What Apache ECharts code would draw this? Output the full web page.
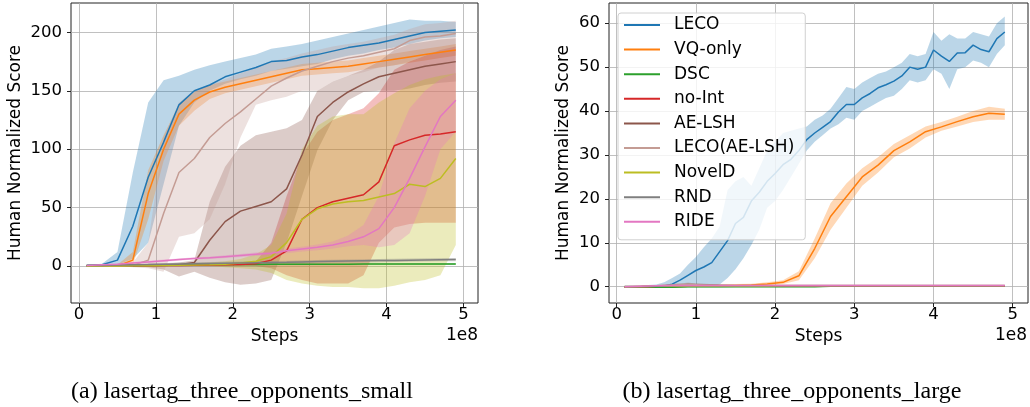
<!DOCTYPE html>
<html>
<head>
<meta charset="utf-8">
<script src="https://cdn.jsdelivr.net/npm/echarts@6/dist/echarts.min.js"></script>
<style>
  html, body { margin: 0; padding: 0; background: #fff; }
  #chart { width: 1030px; height: 407px; }
</style>
</head>
<body>
<div id="chart"></div>
<script>
// 横轴 (单位 1e8 步)
const steps = [0.1, 0.3, 0.5, 0.7, 0.9, 1.1, 1.3, 1.5, 1.7, 1.9, 2.1, 2.3, 2.5, 2.7, 2.9, 3.1, 3.3, 3.5, 3.7, 3.9, 4.1, 4.3, 4.5, 4.7, 4.9];
// LECO (large) 读得更细
const fineSteps = [0.1, 0.2, 0.3, 0.4, 0.5, 0.6, 0.7, 0.8, 0.9, 1.0, 1.1, 1.2, 1.3, 1.4, 1.5, 1.6, 1.7, 1.8, 1.9, 2.0, 2.1, 2.2, 2.3, 2.4, 2.5, 2.6, 2.7, 2.8, 2.9, 3.0, 3.1, 3.2, 3.3, 3.4, 3.5, 3.6, 3.7, 3.8, 3.9, 4.0, 4.1, 4.2, 4.3, 4.4, 4.5, 4.6, 4.7, 4.8, 4.9];
const methods = ['LECO', 'VQ-only', 'DSC', 'no-Int', 'AE-LSH', 'LECO(AE-LSH)', 'NovelD', 'RND', 'RIDE'];
const colors = ['#1f77b4', '#ff7f0e', '#2ca02c', '#d62728', '#8c564b', '#c49c94', '#bcbd22', '#7f7f7f', '#e377c2'];
const ticksX = [0, 1, 2, 3, 4, 5];
const smallTicksY = [0, 50, 100, 150, 200];
const largeTicksY = [0, 10, 20, 30, 40, 50, 60];

// (a) lasertag_three_opponents_small
const smallLECO = [0.5, 1, 5, 34, 76, 106, 138, 150, 155, 162, 166, 170, 175, 176, 179, 181, 184, 187, 189, 191, 194, 197, 200, 201, 202];
const smallLECOLo = [0, 0, 1, 6, 20, 70, 120, 140, 150, 156, 160, 163, 167, 169, 171, 173, 177, 180, 182, 185, 187, 190, 193, 195, 196];
const smallLECOHi = [1, 2, 12, 80, 140, 159, 163, 168, 172, 175, 178, 181, 186, 188, 190, 193, 196, 199, 202, 205, 208, 211, 210, 210, 209];

const smallVQ = [0, 0, 0, 5, 62, 100, 130, 142, 149, 153, 156, 159, 162, 165, 168, 169, 170, 171, 173, 175, 177, 179, 181, 183, 185];
const smallVQLo = [0, 0, 0, 1, 40, 90, 120, 133, 143, 148, 151, 154, 157, 160, 163, 164, 165, 166, 168, 170, 172, 174, 176, 178, 180];
const smallVQHi = [0.5, 1, 1, 12, 82, 112, 138, 149, 155, 158, 161, 164, 167, 170, 173, 174, 175, 176, 178, 180, 182, 184, 186, 188, 190];

const smallDSC = [0.5, 0.5, 0.5, 0.8, 1, 1, 1, 1, 1.2, 1.2, 1.3, 1.3, 1.4, 1.4, 1.5, 1.5, 1.5, 1.5, 1.6, 1.6, 1.6, 1.7, 1.7, 1.7, 1.7];
const smallDSCLo = [0, 0, 0, 0.2, 0.4, 0.4, 0.4, 0.4, 0.5, 0.5, 0.6, 0.6, 0.6, 0.6, 0.7, 0.7, 0.7, 0.7, 0.8, 0.8, 0.8, 0.8, 0.8, 0.8, 0.8];
const smallDSCHi = [1, 1, 1, 1.4, 1.6, 1.6, 1.6, 1.6, 1.9, 1.9, 2, 2, 2.2, 2.2, 2.3, 2.3, 2.3, 2.3, 2.4, 2.4, 2.4, 2.6, 2.6, 2.6, 2.6];

const smallNoInt = [0, 0, 0, 0.2, 0.3, 0.4, 0.5, 0.6, 0.8, 1, 1.2, 2, 5, 13, 40, 50, 55, 58, 61, 72, 103, 108, 112, 113, 115];
const smallNoIntLo = [0, 0, 0, 0, 0, 0, 0, 0, 0, 0, 0, 0, -2, -8, -12, -15, -15, -15, -8, 20, 33, 36, 37, 37, 37];
const smallNoIntHi = [0.5, 0.5, 0.5, 1, 1, 1, 1, 1.5, 1.5, 2, 2.5, 4, 20, 60, 95, 115, 125, 130, 135, 148, 168, 175, 180, 185, 188];

const smallAE = [0, 0, 0, 0, 0.2, 0.5, 1, 3, 22, 38, 47, 51, 55, 66, 95, 128, 140, 149, 156, 162, 165, 168, 171, 173, 175];
const smallAELo = [0, 0, 0, 0, -1, -3, -9, -5, -10, -14, -16, -15, -12, 20, 60, 99, 125, 142, 149, 150, 150, 152, 155, 157, 158];
const smallAEHi = [0.5, 0.5, 0.5, 1, 2, 2, 3, 5, 55, 85, 103, 112, 115, 118, 125, 150, 158, 163, 168, 175, 185, 190, 192, 194, 195];

const smallLECOAE = [0, 0, 0, 0.5, 5, 45, 80, 92, 110, 122, 132, 143, 154, 161, 167, 171, 175, 178, 180, 183, 186, 193, 196, 197, 199];
const smallLECOAELo = [0, 0, 0, -1, -2, -5, 25, 28, 40, 70, 110, 138, 142, 145, 150, 150, 158, 163, 166, 170, 172, 175, 180, 183, 186];
const smallLECOAEHi = [0.5, 1, 1, 3, 20, 110, 140, 150, 155, 160, 165, 170, 175, 178, 182, 185, 188, 190, 192, 195, 198, 203, 207, 208, 210];

const smallNovelD = [0, 0, 0, 0.2, 0.3, 0.5, 0.6, 0.8, 1, 1.5, 2.5, 4, 8, 20, 40, 49, 53, 55, 56, 59, 62, 70, 68, 75, 92];
const smallNovelDLo = [0, 0, 0, 0, 0, 0, 0, 0, 0, -1, -2, -3, -6, -12, -15, -17, -18, -18, -19, -19, -17, -14, -12, -8, 18];
const smallNovelDHi = [0.5, 0.5, 0.5, 0.8, 1, 1.5, 2, 2.5, 3, 4, 6, 10, 18, 45, 100, 120, 128, 130, 130, 140, 148, 155, 160, 163, 165];

const smallRND = [0.5, 0.5, 0.8, 1, 1.2, 1.5, 1.8, 2, 2.2, 2.4, 2.6, 2.8, 3, 3.2, 3.5, 3.8, 4, 4.2, 4.4, 4.6, 4.8, 5, 5.2, 5.4, 5.5];
const smallRNDLo = [0, 0, 0, 0, 0.2, 0.5, 0.7, 0.9, 1, 1.2, 1.4, 1.5, 1.7, 1.9, 2.1, 2.4, 2.6, 2.8, 3, 3.2, 3.4, 3.6, 3.8, 4, 4.1];
const smallRNDHi = [1, 1, 1.5, 2, 2.2, 2.5, 2.9, 3.1, 3.4, 3.6, 3.8, 4.1, 4.3, 4.5, 4.9, 5.2, 5.4, 5.6, 5.8, 6, 6.2, 6.4, 6.6, 6.8, 6.9];

const smallRIDE = [0.5, 1, 1.5, 2.5, 3.5, 4.5, 5.5, 6.5, 7, 8, 9, 10, 11, 13, 14.5, 16, 18, 21, 25, 32, 50, 75, 102, 128, 142];
const smallRIDELo = [0, 0.3, 0.7, 1.5, 2.5, 3.5, 4.5, 5.5, 6, 6.8, 7.7, 8.5, 9.5, 11, 12.5, 13.5, 15, 17, 18, 16, 18, 28, 60, 100, 115];
const smallRIDEHi = [1, 1.7, 2.3, 3.5, 4.5, 5.5, 6.5, 7.5, 8, 9.2, 10.3, 11.5, 12.5, 15, 16.5, 18.5, 21, 26, 35, 60, 105, 135, 150, 160, 165];

// (b) lasertag_three_opponents_large
const largeLECO = [0, 0, 0, 0, 0.1, 0.2, 0.6, 1.5, 2.6, 3.7, 4.5, 5.5, 8, 10.5, 14.4, 15.8, 19.5, 21.5, 24, 25.8, 27.8, 29, 31, 33.5, 35, 36.3, 37.6, 39.8, 41.5, 41.5, 43, 44, 45.3, 46, 46.8, 48, 50, 49.5, 50, 53.9, 52.5, 51.3, 53.2, 53.3, 55, 54, 53.5, 56.5, 58];
const largeLECOLo = [0, 0, 0, 0, 0, 0, 0, 0, 0, 0, 0, 0, 0.5, 2, 4, 6.5, 9.5, 13, 18, 19.5, 22, 25, 28, 31, 33, 34.5, 36, 37, 38.5, 38, 40, 41, 42, 43, 43.5, 45, 47, 46.5, 47, 49.5, 48.5, 45, 49.5, 50, 51.5, 51, 50, 53, 55];
const largeLECOHi = [0.3, 0.3, 0.3, 0.4, 0.5, 1, 2, 3, 5, 6.8, 9, 11, 13.7, 22, 24, 25, 23, 27, 31, 33, 35, 35.5, 36, 36.5, 38, 39, 40.5, 43, 45.5, 45, 46.5, 47.5, 48.5, 49, 50, 51, 53, 52.5, 53, 58, 56, 57.5, 56.5, 56.5, 58, 57.5, 57, 60, 61.5];

const largeVQ = [0, 0, 0, 0, 0.1, 0.1, 0.2, 0.3, 0.4, 0.6, 1, 2.5, 8.7, 16, 20.5, 25, 27.7, 31, 33, 35.3, 36.4, 37.6, 38.7, 39.5, 39.3];
const largeVQLo = [-0.2, -0.2, -0.2, -0.1, 0, 0, 0, 0.1, 0.2, 0.3, 0.6, 1.5, 6.5, 13, 18, 23, 26, 29.5, 31.5, 34, 35.5, 36.5, 37.5, 38, 38];
const largeVQHi = [0.2, 0.2, 0.2, 0.3, 0.4, 0.4, 0.5, 0.6, 0.7, 1, 1.5, 3.5, 11, 19, 23.5, 27, 29.5, 32.5, 34.5, 36.5, 37.5, 38.7, 40, 41, 40.5];

const largeDSC = [0, -0.1, -0.1, -0.1, 0, 0, 0, 0, 0, 0, 0, 0, 0, 0.1, 0.1, 0.1, 0.1, 0.1, 0.1, 0.1, 0.1, 0.1, 0.1, 0.1, 0.1];
const largeDSCLo = [-0.2, -0.3, -0.3, -0.3, -0.2, -0.2, -0.2, -0.1, -0.1, -0.1, -0.1, -0.1, -0.1, 0, 0, 0, 0, 0, 0, 0, 0, 0, 0, 0, 0];
const largeDSCHi = [0.2, 0.1, 0.1, 0.1, 0.2, 0.2, 0.2, 0.1, 0.1, 0.1, 0.1, 0.1, 0.1, 0.2, 0.2, 0.2, 0.2, 0.2, 0.2, 0.2, 0.2, 0.2, 0.2, 0.2, 0.2];

const largeNoInt = [0, 0, 0.1, 0.1, 0.1, 0.1, 0.1, 0.1, 0.1, 0.1, 0.1, 0.1, 0.1, 0.1, 0.1, 0.1, 0.1, 0.1, 0.1, 0.1, 0.1, 0.1, 0.1, 0.1, 0.1];
const largeNoIntLo = [-0.1, -0.1, 0, 0, 0, 0, 0, 0, 0, 0, 0, 0, 0, 0, 0, 0, 0, 0, 0, 0, 0, 0, 0, 0, 0];
const largeNoIntHi = [0.1, 0.1, 0.2, 0.2, 0.2, 0.2, 0.2, 0.2, 0.2, 0.2, 0.2, 0.2, 0.2, 0.2, 0.2, 0.2, 0.2, 0.2, 0.2, 0.2, 0.2, 0.2, 0.2, 0.2, 0.2];

const largeAE = [0, 0, 0.1, 0.3, 0.5, 0.4, 0.3, 0.2, 0.2, 0.2, 0.2, 0.2, 0.2, 0.2, 0.2, 0.2, 0.2, 0.2, 0.2, 0.2, 0.2, 0.2, 0.2, 0.2, 0.2];
const largeAELo = [-0.2, -0.2, -0.1, 0, 0.1, 0.1, 0.1, 0, 0, 0, 0, 0, 0, 0, 0, 0, 0, 0, 0, 0, 0, 0, 0, 0, 0];
const largeAEHi = [0.2, 0.2, 0.3, 0.6, 0.9, 0.7, 0.5, 0.4, 0.4, 0.4, 0.4, 0.4, 0.4, 0.4, 0.4, 0.4, 0.4, 0.4, 0.4, 0.4, 0.4, 0.4, 0.4, 0.4, 0.4];

const largeLECOAE = [0, 0.1, 0.2, 0.4, 0.5, 0.4, 0.3, 0.3, 0.3, 0.3, 0.3, 0.3, 0.3, 0.3, 0.3, 0.3, 0.3, 0.3, 0.3, 0.3, 0.3, 0.3, 0.3, 0.3, 0.3];
const largeLECOAELo = [-0.2, -0.1, 0, 0.1, 0.1, 0.1, 0.1, 0.1, 0.1, 0.1, 0.1, 0.1, 0.1, 0.1, 0.1, 0.1, 0.1, 0.1, 0.1, 0.1, 0.1, 0.1, 0.1, 0.1, 0.1];
const largeLECOAEHi = [0.2, 0.3, 0.4, 0.7, 0.9, 0.7, 0.5, 0.5, 0.5, 0.5, 0.5, 0.5, 0.5, 0.5, 0.5, 0.5, 0.5, 0.5, 0.5, 0.5, 0.5, 0.5, 0.5, 0.5, 0.5];

const largeNovelD = [0, 0, 0.1, 0.1, 0.1, 0.1, 0.1, 0.1, 0.1, 0.1, 0.2, 0.2, 0.2, 0.2, 0.2, 0.2, 0.2, 0.2, 0.2, 0.2, 0.2, 0.2, 0.2, 0.2, 0.2];
const largeNovelDLo = [-0.1, -0.1, 0, 0, 0, 0, 0, 0, 0, 0, 0.1, 0.1, 0.1, 0.1, 0.1, 0.1, 0.1, 0.1, 0.1, 0.1, 0.1, 0.1, 0.1, 0.1, 0.1];
const largeNovelDHi = [0.1, 0.1, 0.2, 0.2, 0.2, 0.2, 0.2, 0.2, 0.2, 0.2, 0.3, 0.3, 0.3, 0.3, 0.3, 0.3, 0.3, 0.3, 0.3, 0.3, 0.3, 0.3, 0.3, 0.3, 0.3];

const largeRND = [0, 0, 0.1, 0.2, 0.2, 0.2, 0.2, 0.2, 0.2, 0.2, 0.2, 0.2, 0.2, 0.2, 0.2, 0.2, 0.2, 0.2, 0.2, 0.2, 0.2, 0.2, 0.2, 0.2, 0.2];
const largeRNDLo = [-0.1, -0.1, 0, 0.1, 0.1, 0.1, 0.1, 0.1, 0.1, 0.1, 0.1, 0.1, 0.1, 0.1, 0.1, 0.1, 0.1, 0.1, 0.1, 0.1, 0.1, 0.1, 0.1, 0.1, 0.1];
const largeRNDHi = [0.1, 0.1, 0.2, 0.3, 0.3, 0.3, 0.3, 0.3, 0.3, 0.3, 0.3, 0.3, 0.3, 0.3, 0.3, 0.3, 0.3, 0.3, 0.3, 0.3, 0.3, 0.3, 0.3, 0.3, 0.3];

const largeRIDE = [0, 0.1, 0.2, 0.3, 0.3, 0.3, 0.3, 0.3, 0.3, 0.3, 0.3, 0.3, 0.3, 0.3, 0.3, 0.3, 0.3, 0.3, 0.3, 0.3, 0.3, 0.3, 0.3, 0.3, 0.3];
const largeRIDELo = [-0.1, 0, 0.1, 0.2, 0.2, 0.2, 0.2, 0.2, 0.2, 0.2, 0.2, 0.2, 0.2, 0.2, 0.2, 0.2, 0.2, 0.2, 0.2, 0.2, 0.2, 0.2, 0.2, 0.2, 0.2];
const largeRIDEHi = [0.1, 0.2, 0.3, 0.4, 0.4, 0.4, 0.4, 0.4, 0.4, 0.4, 0.4, 0.4, 0.4, 0.4, 0.4, 0.4, 0.4, 0.4, 0.4, 0.4, 0.4, 0.4, 0.4, 0.4, 0.4];

// 按方法顺序整理: [横轴, 均值, 下界, 上界]
const smallRuns = [
    [steps, smallLECO, smallLECOLo, smallLECOHi],
    [steps, smallVQ, smallVQLo, smallVQHi],
    [steps, smallDSC, smallDSCLo, smallDSCHi],
    [steps, smallNoInt, smallNoIntLo, smallNoIntHi],
    [steps, smallAE, smallAELo, smallAEHi],
    [steps, smallLECOAE, smallLECOAELo, smallLECOAEHi],
    [steps, smallNovelD, smallNovelDLo, smallNovelDHi],
    [steps, smallRND, smallRNDLo, smallRNDHi],
    [steps, smallRIDE, smallRIDELo, smallRIDEHi]
];
const largeRuns = [
    [fineSteps, largeLECO, largeLECOLo, largeLECOHi],
    [steps, largeVQ, largeVQLo, largeVQHi],
    [steps, largeDSC, largeDSCLo, largeDSCHi],
    [steps, largeNoInt, largeNoIntLo, largeNoIntHi],
    [steps, largeAE, largeAELo, largeAEHi],
    [steps, largeLECOAE, largeLECOAELo, largeLECOAEHi],
    [steps, largeNovelD, largeNovelDLo, largeNovelDHi],
    [steps, largeRND, largeRNDLo, largeRNDHi],
    [steps, largeRIDE, largeRIDELo, largeRIDEHi]
];

const font = 'DejaVu Sans';

// 阴影带: 用 custom 系列一次画出整块多边形 (坐标经 api.coord 换算)
function bandRenderer(color) {
    return function (params, api) {
        if (params.dataIndex !== 0) return null;
        const n = params.dataInsideLength;
        let upper = [];
        let lower = [];
        for (let k = 0; k < n; k++) {
            upper.push(api.coord([api.value(0, k), api.value(2, k)]));
            lower.push(api.coord([api.value(0, k), api.value(1, k)]));
        }
        const points = upper.concat(lower.reverse());
        return {
            type: 'polygon',
            shape: { points: points },
            style: { fill: color, opacity: 0.3 },
            silent: true
        };
    };
}

// 均值线 + 阴影带
function buildSeries(runs, axisIndex) {
    let arr = [];
    runs.forEach((run, i) => {
        const [xs, mean, lo, hi] = run;
        arr.push({
            type: 'custom',
            xAxisIndex: axisIndex,
            yAxisIndex: axisIndex,
            clip: true,
            silent: true,
            renderItem: bandRenderer(colors[i]),
            encode: { x: 0, y: [1, 2] },
            data: xs.map((x, k) => [x, lo[k], hi[k]])
        });
        arr.push({
            name: methods[i],
            type: 'line',
            xAxisIndex: axisIndex,
            yAxisIndex: axisIndex,
            symbol: 'none',
            itemStyle: { color: colors[i] },
            lineStyle: { color: colors[i], width: 1.5 },
            data: xs.map((x, k) => [x, mean[k]])
        });
    });
    return arr;
}

function makeX(gridIndex, min, max) {
    return {
        type: 'value',
        gridIndex: gridIndex,
        min: min,
        max: max,
        name: 'Steps',
        nameLocation: 'middle',
        nameGap: 24,
        nameTextStyle: { fontSize: 17, color: '#000', fontFamily: font },
        axisLine: { show: false, onZero: false },
        axisTick: { show: true, length: 4, customValues: ticksX, lineStyle: { color: '#222' } },
        axisLabel: { customValues: ticksX, margin: 3, fontSize: 16.5, color: '#000', fontFamily: font },
        splitLine: { show: true, lineStyle: { color: '#b0b0b0', width: 0.8 } }
    };
}

function makeY(gridIndex, min, max, ticks, gap) {
    return {
        type: 'value',
        gridIndex: gridIndex,
        min: min,
        max: max,
        name: 'Human Normalized Score',
        nameLocation: 'middle',
        nameGap: gap,
        nameTextStyle: { fontSize: 17, color: '#000', fontFamily: font },
        axisLine: { show: false, onZero: false },
        axisTick: { show: true, length: 4, customValues: ticks, lineStyle: { color: '#222' } },
        axisLabel: { customValues: ticks, margin: 9, fontSize: 16.5, color: '#000', fontFamily: font },
        splitLine: { show: true, lineStyle: { color: '#b0b0b0', width: 0.8 } }
    };
}

const dom = document.getElementById('chart');
const myChart = echarts.init(dom, null, { renderer: 'canvas' });

const option = {
    backgroundColor: '#fff',
    animation: false,
    grid: [
        { left: 71, top: 3, width: 407, height: 300, show: true, borderColor: '#222', borderWidth: 1, backgroundColor: 'transparent' },
        { left: 609, top: 3, width: 419, height: 300, show: true, borderColor: '#222', borderWidth: 1, backgroundColor: 'transparent' }
    ],
    xAxis: [makeX(0, -0.104, 5.189), makeX(1, -0.097, 5.193)],
    yAxis: [makeY(0, -31.7, 225.2, smallTicksY, 47), makeY(1, -3.7, 64.6, largeTicksY, 37)],
    legend: {
        data: methods,
        orient: 'vertical',
        left: 618,
        top: 13,
        icon: 'rect',
        itemWidth: 36,
        itemHeight: 2,
        itemGap: 4.6,
        padding: [2, 11, 8, 6],
        backgroundColor: 'rgba(255,255,255,0.8)',
        borderColor: '#d0d0d0',
        borderWidth: 1,
        borderRadius: 3,
        textStyle: { fontSize: 17, lineHeight: 20, color: '#000', fontFamily: font, padding: [0, 0, 0, 9] }
    },
    graphic: [
        { type: 'text', x: 478, y: 336, style: { text: '1e8', align: 'right', verticalAlign: 'middle', fontSize: 17, fontFamily: font, fill: '#000' } },
        { type: 'text', x: 1027, y: 336, style: { text: '1e8', align: 'right', verticalAlign: 'middle', fontSize: 17, fontFamily: font, fill: '#000' } },
        { type: 'text', x: 242, y: 392, style: { text: '(a) lasertag_three_opponents_small', align: 'center', verticalAlign: 'middle', fontSize: 24, fontFamily: 'Liberation Serif', fill: '#000' } },
        { type: 'text', x: 792, y: 392, style: { text: '(b) lasertag_three_opponents_large', align: 'center', verticalAlign: 'middle', fontSize: 24, fontFamily: 'Liberation Serif', fill: '#000' } }
    ],
    series: buildSeries(smallRuns, 0).concat(buildSeries(largeRuns, 1))
};

myChart.setOption(option);

window.addEventListener('resize', function () {
    myChart.resize();
});
</script>
</body>
</html>
